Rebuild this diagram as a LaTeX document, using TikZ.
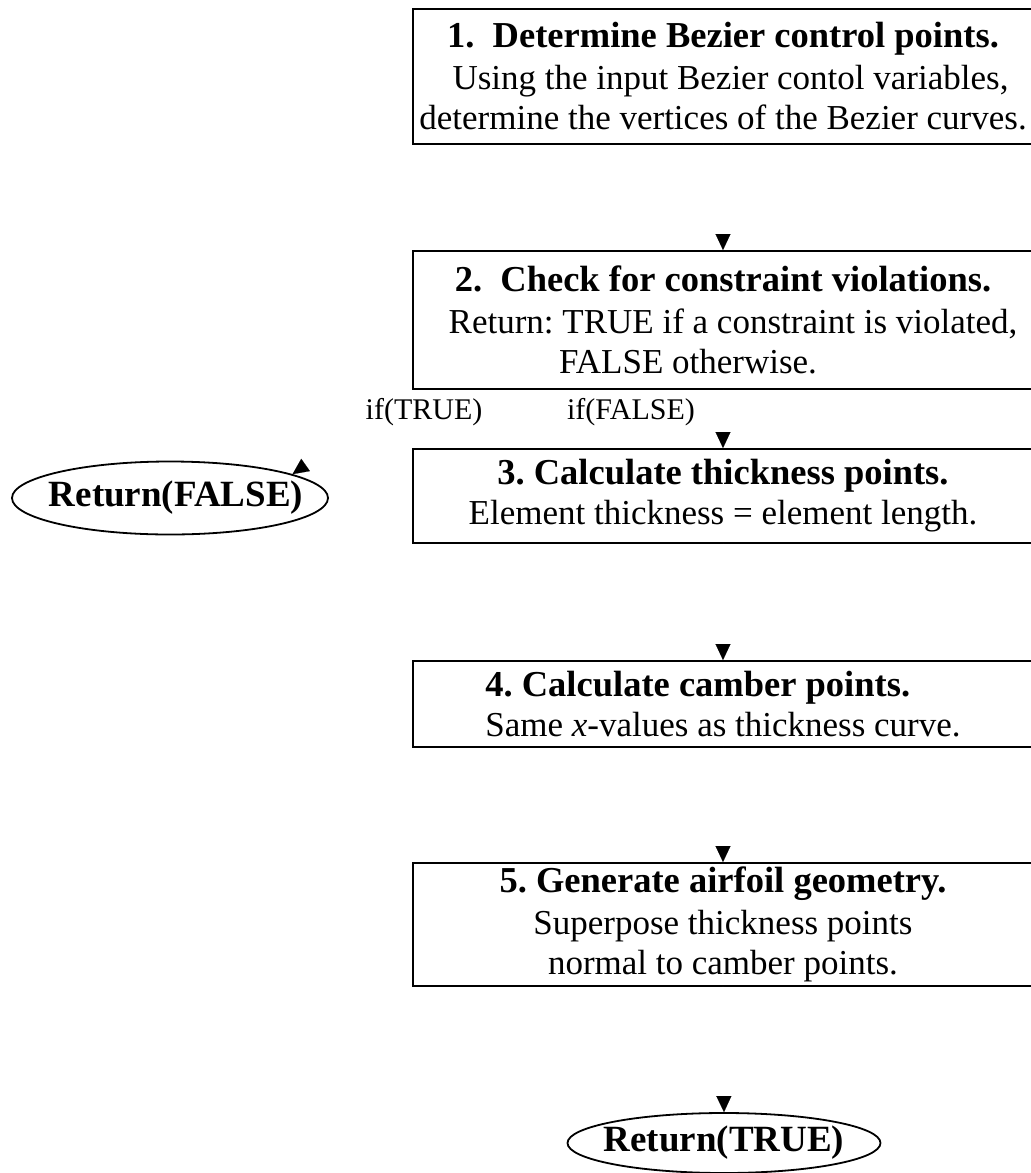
\documentclass[tikz,border=0pt]{standalone}
\usepackage{fontspec}
\setmainfont{Liberation Serif}
\usetikzlibrary{shapes.geometric,arrows.meta}
\newcommand{\ttlfont}{\fontsize{36.5}{40}\selectfont\bfseries}
\newcommand{\bdyfont}{\fontsize{35}{40}\selectfont}
\newcommand{\ovlfont}{\fontsize{37}{40}\selectfont\bfseries}
\newcommand{\iffont}{\fontsize{30}{36}\selectfont}
\frenchspacing
\tikzset{
  stepbox/.style={draw, line width=1.8pt, minimum width=620pt, inner sep=0pt, anchor=north, align=center, font=\bdyfont},
  oval/.style={ellipse, draw, line width=1.8pt, inner sep=0pt},
  ovaltext/.style={inner sep=0pt, font=\ovlfont},
  flow/.style={draw=white, line width=0.1pt, -{Triangle[black, length=16pt, width=15pt]}},
  lbl/.style={font=\iffont, inner sep=0pt}
}
\begin{document}
\begin{tikzpicture}[x=1pt, y=1pt]
\useasboundingbox (0,0) rectangle (1031,-1173);
\fill[white] (0,0) rectangle (1031,-1173);
\node[stepbox, minimum height=135pt] (b1) at (723,-8)
  {{\ttlfont 1.\ \ Determine Bezier control points.}\\[2pt]
   \hspace*{15pt}Using the input Bezier contol variables,\\
   determine the vertices of the Bezier curves.};
\node[stepbox, minimum height=138pt] (b2) at (723,-250)
  {{\ttlfont 2.\ \ Check for constraint violations.}\\[2pt]
   \hspace*{20pt}Return: TRUE if a constraint is violated,\\
   \hspace*{-70pt}FALSE otherwise.};
\node[stepbox, minimum height=94pt] (b3) at (723,-448)
  {{\ttlfont 3. Calculate thickness points.}\\
   Element thickness = element length.};
\node[stepbox, minimum height=86pt, align=left] (b4) at (723,-660)
  {{\ttlfont 4. Calculate camber points.}\\
   Same \textit{x}-values as thickness curve.};
\node[stepbox, minimum height=123pt] (b5) at (723,-862)
  {{\ttlfont 5. Generate airfoil geometry.}\\[2pt]
   Superpose thickness points\\
   normal to camber points.};
\node[oval, minimum width=316pt, minimum height=73pt] (rf) at (170,-498) {};
\node[ovaltext] (rft) at ([xshift=6pt]rf.center) {Return(FALSE)};
\node[oval, minimum width=313pt, minimum height=60pt] (rt) at (724,-1143) {};
\node[ovaltext] (rtt) at (rt.center) {Return(TRUE)};
\draw[flow] (b1.south) -- (b2.north);
\draw[flow] (b2.south) -- (b3.north);
\draw[flow] (b3.south) -- (b4.north);
\draw[flow] (b4.south) -- (b5.north);
\draw[flow] (b5.south) -- (rt.north);
\draw[flow] (b2.south west) -- (rf.11);
\node[lbl] (lt) at (424,-412) {if(TRUE)};
\node[lbl] (lf) at (631,-412) {if(FALSE)};
\end{tikzpicture}
\end{document}
